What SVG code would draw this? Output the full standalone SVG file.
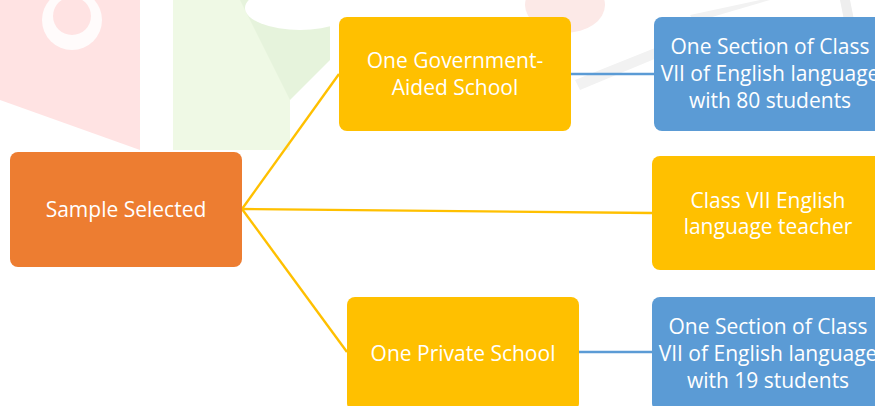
<svg xmlns="http://www.w3.org/2000/svg" width="875" height="406" viewBox="0 0 875 406">
<style>
.t{font-family:"Open Sans","Liberation Sans",sans-serif;font-size:21px;fill:#ffffff;text-anchor:middle}
.y{fill:#FFC000}
.b{fill:#5B9BD5}
.o{fill:#ED7D31}
.cy{stroke:#FFC000;stroke-width:2.4;fill:none}
.cb{stroke:#5B9BD5;stroke-width:2.4;fill:none}
</style>
<rect width="875" height="406" fill="#ffffff"/>
<g id="watermark">
<polygon points="0,0 140,0 140,150 0,100" fill="#FFE3E3"/>
<circle cx="72" cy="20" r="30" fill="#ffffff" opacity="0.85"/>
<circle cx="72" cy="16" r="19" fill="#FFE3E3"/>
<polygon points="173,0 290,0 290,150 173,150" fill="#EFF9E5"/>
<polygon points="240,0 330,0 330,60 290,100" fill="#E6F3DC"/>
<ellipse cx="300" cy="8" rx="55" ry="22" fill="#ffffff"/>
<ellipse cx="565" cy="5" rx="40" ry="28" fill="#FCE9E7"/>
<polygon points="575,80 700,30 705,38 580,90" fill="#F2F2F2"/>
<polygon points="690,15 760,0 770,0 695,22" fill="#F2F2F2"/>
<polygon points="840,0 850,0 855,25 845,25" fill="#EEEEEE"/>
</g>
<g id="connectors">
<line class="cy" x1="242" y1="209" x2="339" y2="74"/>
<line class="cy" x1="242" y1="209" x2="652" y2="213"/>
<line class="cy" x1="242" y1="209" x2="347" y2="352"/>
<line class="cb" x1="571" y1="74" x2="654" y2="74"/>
<line class="cb" x1="579" y1="352" x2="652" y2="352"/>
</g>
<g id="sample">
<rect class="o" x="10" y="152" width="232" height="115" rx="8"/>
<text class="t" x="126" y="217">Sample Selected</text>
</g>
<g id="gov">
<rect class="y" x="339" y="17" width="232" height="114" rx="8"/>
<text class="t" x="455" y="68">One Government-</text>
<text class="t" x="455" y="95">Aided School</text>
</g>
<g id="gov-class">
<rect class="b" x="654" y="17" width="232" height="114" rx="8"/>
<text class="t" x="770" y="54">One Section of Class</text>
<text class="t" x="770" y="81">VII of English language</text>
<text class="t" x="770" y="108">with 80 students</text>
</g>
<g id="teacher">
<rect class="y" x="652" y="156" width="232" height="114" rx="8"/>
<text class="t" x="768" y="208">Class VII English</text>
<text class="t" x="768" y="234">language teacher</text>
</g>
<g id="private">
<rect class="y" x="347" y="297" width="232" height="114" rx="8"/>
<text class="t" x="463" y="361">One Private School</text>
</g>
<g id="private-class">
<rect class="b" x="652" y="297" width="232" height="114" rx="8"/>
<text class="t" x="768" y="334">One Section of Class</text>
<text class="t" x="768" y="361">VII of English language</text>
<text class="t" x="768" y="388">with 19 students</text>
</g>
</svg>
